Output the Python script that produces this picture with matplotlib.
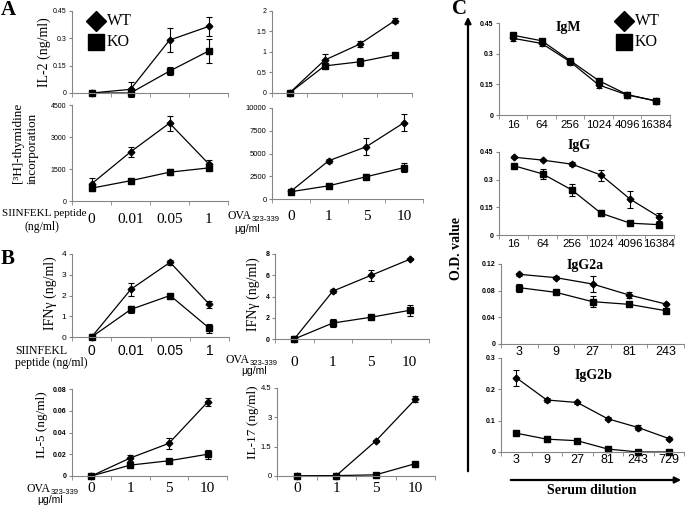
import matplotlib.pyplot as plt

plt.rcParams['font.family'] = ['Liberation Serif', 'DejaVu Serif']

W, H = 685, 505
GRAY = '#858585'

# x categories
pep_doses = ["0", "0.01", "0.05", "1"]
ova_doses = ["0", "1", "5", "10"]
igm_dil = ["16", "64", "256", "1024", "4096", "16384"]
igg2a_dil = ["3", "9", "27", "81", "243"]
igg2b_dil = ["3", "9", "27", "81", "243", "729"]

# A: IL-2 and proliferation
il2_pep_wt = [0, 0.02, 0.29, 0.365]
il2_pep_wt_err = [0.005, 0.04, 0.065, 0.05]
il2_pep_ko = [0, 0, 0.12, 0.23]
il2_pep_ko_err = [0.005, 0.003, 0.02, 0.065]
thy_pep_wt = [800, 2300, 3650, 1750]
thy_pep_wt_err = [300, 250, 350, 150]
thy_pep_ko = [600, 950, 1350, 1550]
thy_pep_ko_err = [150, 80, 150, 100]
il2_ova_wt = [0, 0.8, 1.19, 1.76]
il2_ova_wt_err = [0.02, 0.15, 0.08, 0.06]
il2_ova_ko = [0, 0.66, 0.76, 0.93]
il2_ova_ko_err = [0.02, 0.05, 0.1, 0.05]
thy_ova_wt = [850, 4200, 5750, 8400]
thy_ova_wt_err = [150, 250, 900, 900]
thy_ova_ko = [800, 1450, 2450, 3450]
thy_ova_ko_err = [150, 200, 300, 500]

# B: cytokines
ifng_pep_wt = [0, 2.3, 3.6, 1.57]
ifng_pep_wt_err = [0.05, 0.3, 0.12, 0.15]
ifng_pep_ko = [0, 1.33, 2.0, 0.42]
ifng_pep_ko_err = [0.05, 0.15, 0.08, 0.22]
ifng_ova_wt = [0, 4.5, 6.0, 7.5]
ifng_ova_wt_err = [0.1, 0.2, 0.5, 0.1]
ifng_ova_ko = [0, 1.5, 2.05, 2.7]
ifng_ova_ko_err = [0.1, 0.35, 0.1, 0.5]
il5_wt = [0, 0.0165, 0.030, 0.068]
il5_wt_err = [0.0005, 0.003, 0.005, 0.004]
il5_ko = [0, 0.010, 0.014, 0.020]
il5_ko_err = [0.0005, 0.002, 0.002, 0.004]
il17_wt = [0, 0.02, 1.79, 3.92]
il17_wt_err = [0.02, 0.02, 0.05, 0.15]
il17_ko = [0, 0.02, 0.06, 0.63]
il17_ko_err = [0.02, 0.02, 0.02, 0.05]

# C: antibody titres
igm_wt = [0.375, 0.35, 0.26, 0.147, 0.098, 0.07]
igm_wt_err = [0.012, 0.012, 0.015, 0.015, 0.005, 0.005]
igm_ko = [0.39, 0.363, 0.266, 0.168, 0.1, 0.068]
igm_ko_err = [0.01, 0.01, 0.01, 0.01, 0.005, 0.005]
igg_wt = [0.422, 0.406, 0.384, 0.325, 0.194, 0.097]
igg_wt_err = [0.005, 0.005, 0.01, 0.03, 0.045, 0.02]
igg_ko = [0.376, 0.331, 0.244, 0.118, 0.064, 0.056]
igg_ko_err = [0.005, 0.025, 0.03, 0.015, 0.005, 0.005]
igg2a_wt = [0.1045, 0.0995, 0.09, 0.0735, 0.06]
igg2a_wt_err = [0.002, 0.002, 0.012, 0.004, 0.002]
igg2a_ko = [0.0845, 0.0775, 0.0635, 0.0595, 0.05]
igg2a_ko_err = [0.006, 0.002, 0.008, 0.002, 0.003]
igg2b_wt = [0.237, 0.166, 0.158, 0.106, 0.078, 0.043]
igg2b_wt_err = [0.025, 0.007, 0.005, 0.005, 0.008, 0.004]
igg2b_ko = [0.06, 0.041, 0.036, 0.0095, 0.0, 0.0]
igg2b_ko_err = [0.006, 0.004, 0.003, 0.003, 0.001, 0.001]

fig = plt.figure(figsize=(W / 100, H / 100), dpi=100)

# overlay in pixel coordinates (origin top-left) for free texts, legends, arrows
ov = fig.add_axes([0, 0, 1, 1])
ov.set_xlim(0, W)
ov.set_ylim(H, 0)
ov.axis('off')


def box(x0, x1, ytop, ybot):
    return [x0 / W, 1 - ybot / H, (x1 - x0) / W, (ybot - ytop) / H]


def ftext(x, y, s, **kw):
    kw.setdefault('ha', 'center')
    kw.setdefault('va', 'center')
    return ov.text(x, y, s, **kw)


def ova_label(x, y, x2, y2):
    # "OVA" in serif with a small sans subscript, then the unit line below
    t = ftext(x, y, 'OVA', fontsize=8.5, ha='left')
    ov.annotate('323-339', xy=(1.0, 0.22), xycoords=t, ha='left', va='center',
                fontsize=5.5, family='Liberation Sans')
    ftext(x2, y2, 'μg/ml', fontsize=7.5, family='Liberation Sans', ha='left')


def panel(rect, cats, wt, wt_err, ko, ko_err, yticks, ysize=5, ybold=False,
          show_x=True, xfam='Liberation Serif', xsize=11, xpad=6):
    ax = fig.add_axes(rect)
    x = list(range(len(cats)))
    for vals, errs, mk, ms in ((ko, ko_err, 's', 4), (wt, wt_err, 'D', 3.4)):
        ax.errorbar(x, vals, yerr=errs, color='black', marker=mk, ms=ms, lw=0.9,
                    elinewidth=0.8, capsize=2.3, capthick=0.8, clip_on=False)
    ax.set_xlim(-0.5, len(cats) - 0.5)
    ax.set_ylim(0, yticks[-1])
    ax.set_yticks(yticks)
    ax.set_yticklabels([f'{t:g}' for t in yticks], fontsize=ysize,
                       family='Liberation Sans', weight='bold' if ybold else 'normal')
    ax.set_xticks(x)
    if show_x:
        ax.set_xticklabels(cats, fontsize=xsize, family=xfam)
    else:
        ax.set_xticklabels([])
    ax.set_xticks([i - 0.5 for i in range(len(cats) + 1)], minor=True)
    ax.tick_params(axis='x', which='major', length=0, pad=xpad)
    ax.tick_params(axis='x', which='minor', length=3, direction='out', color=GRAY)
    ax.tick_params(axis='y', length=2.5, color=GRAY, pad=1.5)
    for s in ('top', 'right'):
        ax.spines[s].set_visible(False)
    for s in ('left', 'bottom'):
        ax.spines[s].set_color(GRAY)
        ax.spines[s].set_linewidth(0.8)
    ax.patch.set_visible(False)
    return ax


def legend(xm, xt, y1, y2):
    ov.plot([xm], [y1], 'D', color='black', ms=10.5)
    ov.plot([xm], [y2], 's', color='black', ms=12)
    ov.text(xt, y1, 'WT', fontsize=11.5, va='center', ha='left')
    ov.text(xt, y2, 'KO', fontsize=11.5, va='center', ha='left')


# ---- A ----
panel(box(72, 228, 11, 93), pep_doses, il2_pep_wt, il2_pep_wt_err,
      il2_pep_ko, il2_pep_ko_err, [0, 0.15, 0.3, 0.45], show_x=False)
panel(box(72, 228, 105, 201), pep_doses, thy_pep_wt, thy_pep_wt_err,
      thy_pep_ko, thy_pep_ko_err, [0, 1500, 3000, 4500], xpad=8.5)
panel(box(272, 412, 11, 93), ova_doses, il2_ova_wt, il2_ova_wt_err,
      il2_ova_ko, il2_ova_ko_err, [0, 0.5, 1, 1.5, 2], show_x=False)
panel(box(272, 423, 108, 199), ova_doses, thy_ova_wt, thy_ova_wt_err,
      thy_ova_ko, thy_ova_ko_err, [0, 2500, 5000, 7500, 10000], ysize=5.5, xpad=8)

# ---- B ----
panel(box(72, 229, 254, 337), pep_doses, ifng_pep_wt, ifng_pep_wt_err,
      ifng_pep_ko, ifng_pep_ko_err, [0, 1, 2, 3, 4], ysize=6,
      xfam='Liberation Sans', xsize=10, xpad=5)
panel(box(275, 429, 254, 339), ova_doses, ifng_ova_wt, ifng_ova_wt_err,
      ifng_ova_ko, ifng_ova_ko_err, [0, 2, 4, 6, 8], ybold=True, xpad=12.5)
panel(box(72, 227, 389, 476), ova_doses, il5_wt, il5_wt_err,
      il5_ko, il5_ko_err, [0, 0.02, 0.04, 0.06, 0.08], ybold=True, xpad=4)
panel(box(277, 435, 388, 476), ova_doses, il17_wt, il17_wt_err,
      il17_ko, il17_ko_err, [0, 1.5, 3, 4.5], ysize=5.5, xpad=4.5)

# ---- C ----
cy = [0, 0.15, 0.3, 0.45]
panel(box(499, 670, 23, 115), igm_dil, igm_wt, igm_wt_err, igm_ko, igm_ko_err,
      cy, ybold=True, xfam='Liberation Sans', xsize=8.2, xpad=3.5)
panel(box(499, 674, 152, 235), igm_dil, igg_wt, igg_wt_err, igg_ko, igg_ko_err,
      cy, ybold=True, xfam='Liberation Sans', xsize=8.2, xpad=3)
panel(box(501, 684, 264, 344), igg2a_dil, igg2a_wt, igg2a_wt_err, igg2a_ko, igg2a_ko_err,
      [0, 0.04, 0.08, 0.12], ybold=True, xfam='Liberation Sans', xsize=9, xpad=1.5)
panel(box(501, 684, 358, 452), igg2b_dil, igg2b_wt, igg2b_wt_err, igg2b_ko, igg2b_ko_err,
      [0, 0.1, 0.2, 0.3], ybold=True, xfam='Liberation Sans', xsize=9, xpad=1.5)

# titles of the antibody panels
ftext(568, 28, 'IgM', fontsize=10, weight='bold')
ftext(579, 145, 'IgG', fontsize=10, weight='bold')
ftext(585, 265, 'IgG2a', fontsize=10, weight='bold')
ftext(593, 375, 'IgG2b', fontsize=10, weight='bold')

# y labels
ftext(44, 52, 'IL-2 (ng/ml)', fontsize=10, rotation=90)
ftext(18, 143, '[³H]-thymidine', fontsize=9.5, rotation=90)
ftext(33, 148, 'incorporation', fontsize=9.5, rotation=90)
ftext(50, 293, 'IFNγ (ng/ml)', fontsize=10, rotation=90)
ftext(253, 294, 'IFNγ (ng/ml)', fontsize=10, rotation=90)
ftext(42, 425, 'IL-5 (ng/ml)', fontsize=9.5, rotation=90)
ftext(253, 422, 'IL-17 (ng/ml)', fontsize=9.5, rotation=90)
ftext(457, 248, 'O.D. value', fontsize=10, weight='bold', rotation=90)

# x axis captions
ftext(2, 214, 'SIINFEKL peptide', fontsize=8, ha='left')
ftext(42, 227, '(ng/ml)', fontsize=8.5)
ova_label(228, 216, 234, 229)
ftext(15, 351, 'SIINFEKL', fontsize=8.5, ha='left')
ftext(15, 363, 'peptide (ng/ml)', fontsize=8.5, ha='left')
ova_label(226, 360, 241, 371)
ova_label(27, 489, 37, 500)
ftext(592, 490, 'Serum dilution', fontsize=10, weight='bold')

# panel letters
ftext(8, 10, 'A', fontsize=15, weight='bold')
ftext(8, 259, 'B', fontsize=15, weight='bold')
ftext(460, 9, 'C', fontsize=15, weight='bold')

# legends
legend(96, 107, 21, 42)
legend(624, 635, 21, 42)

# arrows of panel C
ov.annotate('', xy=(468, 14), xytext=(468, 474),
            arrowprops=dict(arrowstyle='-|>', color='black', lw=1.6, mutation_scale=9))
ov.annotate('', xy=(684, 480), xytext=(508, 480),
            arrowprops=dict(arrowstyle='-|>', color='black', lw=1.6, mutation_scale=9))

fig.savefig('out.png', dpi=100)
